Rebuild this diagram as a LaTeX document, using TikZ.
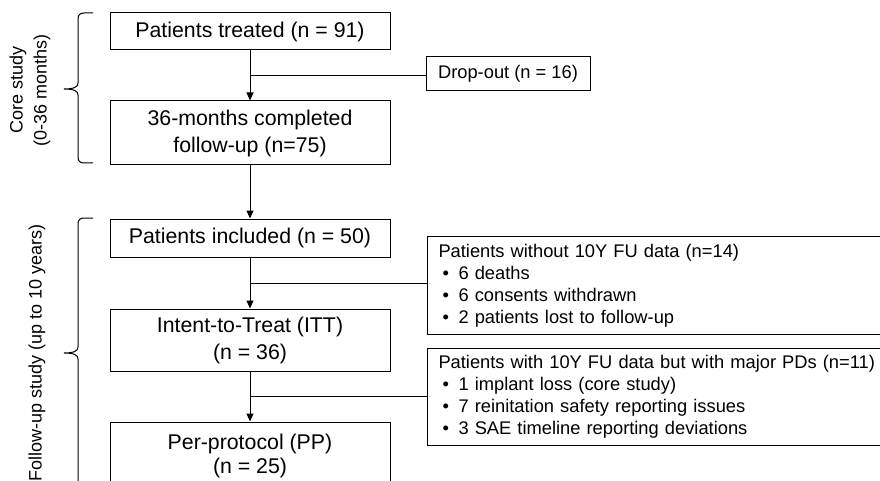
\documentclass[tikz,border=0pt]{standalone}
\usepackage{fontspec}
\setmainfont{Liberation Sans}
\usetikzlibrary{arrows.meta,calc}
\newcommand{\bul}{\hspace*{4pt}\makebox[16pt][l]{\textbullet}}
\begin{document}
\begin{tikzpicture}[x=1pt,y=-1pt,
  mainbox/.style={draw, line width=1pt, minimum width=280pt, inner sep=0pt, align=center, font=\fontsize{21.3}{27}\selectfont},
  sidebox/.style={draw, line width=1pt, inner xsep=11pt, inner ysep=0pt, align=left, anchor=north west, text width=451pt, font=\fontsize{18.3}{22}\selectfont},
  flow/.style={line width=1pt, -{Triangle[length=8pt,width=7pt]}},
  link/.style={line width=1pt},
  brace/.style={line width=1pt},
  sidelabel/.style={rotate=90, align=center, font=\fontsize{18}{24}\selectfont}]
\useasboundingbox (0,0) rectangle (880,481);
\clip (0,0) rectangle (880,481);
\fill[white] (0,0) rectangle (880,481);

% main column
\node[mainbox, minimum height=37pt] (treated) at (250,31.5) {Patients treated (n = 91)};
\node[mainbox, minimum height=64pt] (completed) at (250,133) {36-months completed\\follow-up (n=75)};
\node[mainbox, minimum height=38pt] (included) at (250,238) {Patients included (n = 50)};
\node[mainbox, minimum height=62pt] (itt) at (250,340) {Intent-to-Treat (ITT)\\(n = 36)};
\node[mainbox, minimum height=68pt, font=\fontsize{21.3}{24}\selectfont] (pp) at (250,456) {Per-protocol (PP)\\(n = 25)};

% side boxes
\node[draw, line width=1pt, minimum width=164pt, minimum height=34pt, inner sep=0pt, font=\fontsize{18.3}{22}\selectfont] (drop) at (508,74) {Drop-out (n = 16)};
\node[sidebox, minimum height=98pt] (without) at (427,236) {Patients without 10Y FU data (n=14)\\\bul 6 deaths\\\bul 6 consents withdrawn\\\bul 2 patients lost to follow-up};
\node[sidebox, minimum height=97pt] (withpd) at (427,348) {Patients with 10Y FU data but with major PDs (n=11)\\\bul 1 implant loss (core study)\\\bul 7 reinitation safety reporting issues\\\bul 3 SAE timeline reporting deviations};

% connectors
\draw[flow] (treated) -- (completed);
\coordinate (b1) at ($(treated.south)!0.5!(completed.north)$);
\draw[link] (b1) -- (b1 -| drop.west);
\draw[flow] (completed) -- (included);
\draw[flow] (included) -- (itt);
\coordinate (b2) at ($(included.south)!0.5!(itt.north)$);
\draw[link] (b2) -- (b2 -| without.west);
\draw[flow] (itt) -- (pp);
\coordinate (b3) at ($(itt.south)!0.5!(pp.north)$);
\draw[link] (b3) -- (b3 -| withpd.west);

% braces
\draw[brace] (93,13) -- (84,13) .. controls (80,13) and (78,15) .. (78,19) -- (78,83)
  .. controls (78,87) and (74,89) .. (64,89) .. controls (74,89) and (78,91) .. (78,95)
  -- (78,157) .. controls (78,161) and (80,163) .. (84,163) -- (93,163);
\draw[brace] (93,218) -- (84,218) .. controls (80,218) and (78,220) .. (78,224) -- (78,347)
  .. controls (78,351) and (74,353) .. (64,353) .. controls (74,353) and (78,355) .. (78,359)
  -- (78,482) .. controls (78,486) and (80,488) .. (84,488) -- (93,488);

\node[sidelabel] (core) at (30,90) {Core study\\(0-36 months)};
\node[sidelabel] (follow) at (37,353) {Follow-up study (up to 10 years)};
\end{tikzpicture}
\end{document}
